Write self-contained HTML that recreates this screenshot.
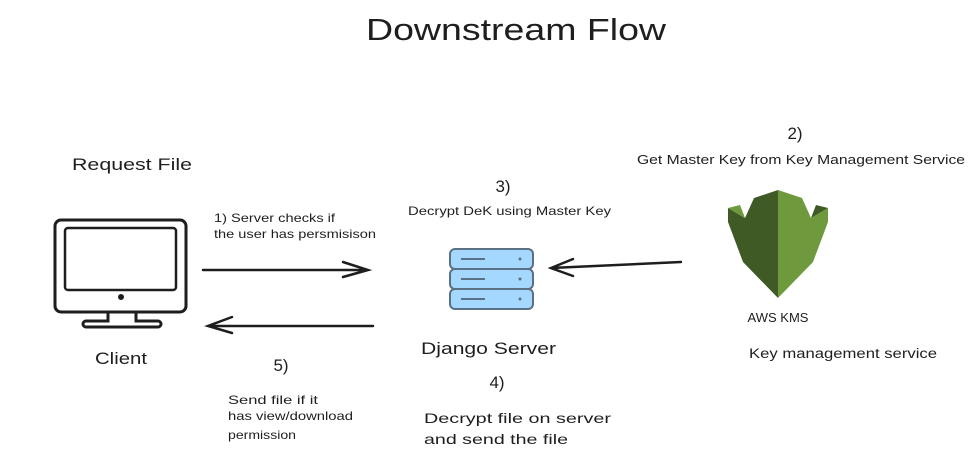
<!DOCTYPE html>
<html><head><meta charset="utf-8"><style>
body{margin:0;background:#fff;}
svg text{font-family:"Liberation Sans",sans-serif;fill:#1e1e1e;}
</style></head><body>
<svg width="976" height="463" viewBox="0 0 976 463" xmlns="http://www.w3.org/2000/svg">
<rect width="976" height="463" fill="#fff"/>
<text x="366" y="40" font-size="31" textLength="300" lengthAdjust="spacingAndGlyphs">Downstream Flow</text>
<text x="72" y="170" font-size="17" textLength="120" lengthAdjust="spacingAndGlyphs">Request File</text>
<text x="95" y="364" font-size="17" textLength="52" lengthAdjust="spacingAndGlyphs">Client</text>
<text x="214" y="222" font-size="12" textLength="121" lengthAdjust="spacingAndGlyphs">1) Server checks if</text>
<text x="214" y="238" font-size="12" textLength="162" lengthAdjust="spacingAndGlyphs">the user has persmisison</text>
<text x="503" y="192" font-size="17" text-anchor="middle">3)</text>
<text x="408" y="215" font-size="12" textLength="203" lengthAdjust="spacingAndGlyphs">Decrypt DeK using Master Key</text>
<text x="795" y="139" font-size="17" text-anchor="middle">2)</text>
<text x="637" y="164" font-size="12.5" textLength="328" lengthAdjust="spacingAndGlyphs">Get Master Key from Key Management Service</text>
<text x="749" y="358" font-size="13.5" textLength="188" lengthAdjust="spacingAndGlyphs">Key management service</text>
<text x="421" y="354" font-size="17" textLength="135" lengthAdjust="spacingAndGlyphs">Django Server</text>
<text x="497" y="388" font-size="17" text-anchor="middle">4)</text>
<text x="424" y="423" font-size="14" textLength="187" lengthAdjust="spacingAndGlyphs">Decrypt file on server</text>
<text x="424" y="444" font-size="14" textLength="144" lengthAdjust="spacingAndGlyphs">and send the file</text>
<text x="281" y="371" font-size="17" text-anchor="middle">5)</text>
<text x="228" y="404" font-size="12" textLength="90" lengthAdjust="spacingAndGlyphs">Send file if it</text>
<text x="228" y="420" font-size="12" textLength="125" lengthAdjust="spacingAndGlyphs">has view/download</text>
<text x="228" y="439" font-size="12" textLength="68" lengthAdjust="spacingAndGlyphs">permission</text>
<!-- monitor -->
<g fill="none" stroke="#1e1e1e" stroke-width="3">
<rect x="55" y="220" width="131" height="92" rx="6"/>
<rect x="65" y="228" width="111" height="62" rx="3" stroke-width="2.5"/>
<path d="M108 312 v9 h-22 a2 2 0 0 0 0 6 h72 a2 2 0 0 0 0 -6 h-22 v-9"/>
</g>
<circle cx="121" cy="297" r="3" fill="#1e1e1e"/>
<!-- arrows -->
<g fill="none" stroke="#1e1e1e" stroke-width="2.5" stroke-linecap="round">
<path d="M203 270 L368 270 M343 262 L368 270 L343 277"/>
<path d="M373 326 L208 326 M232 317 L208 326 L232 333"/>
<path d="M681 262 L551 268 M573 259 L551 268 L573 276"/>
</g>
<!-- server -->
<g fill="#a5d8ff" stroke="#5b6f85" stroke-width="2">
<rect x="450" y="249" width="83" height="20" rx="5"/>
<rect x="450" y="269" width="83" height="20" rx="5"/>
<rect x="450" y="289" width="83" height="20" rx="5"/>
</g>
<g stroke="#5b6f85" stroke-width="2">
<line x1="461" y1="259" x2="485" y2="259"/><line x1="461" y1="279" x2="485" y2="279"/><line x1="461" y1="299" x2="485" y2="299"/>
</g>
<g fill="#5b6f85"><circle cx="520" cy="259" r="1.5"/><circle cx="520" cy="279" r="1.5"/><circle cx="520" cy="299" r="1.5"/></g>
<!-- KMS shield -->
<polygon points="778,190 754,198 745,218 728,208 728,222 743,262 778,298" fill="#3f5a24"/>
<polygon points="778,190 802,198 811,218 828,208 828,222 813,262 778,298" fill="#6e9a3d"/>
<polygon points="728,208 745,218 740,205" fill="#6e9a3d"/>
<polygon points="828,208 811,218 816,205" fill="#3f5a24"/>
<text x="778" y="322" font-size="13" text-anchor="middle" fill="#333">AWS KMS</text>
</svg>
</body></html>
